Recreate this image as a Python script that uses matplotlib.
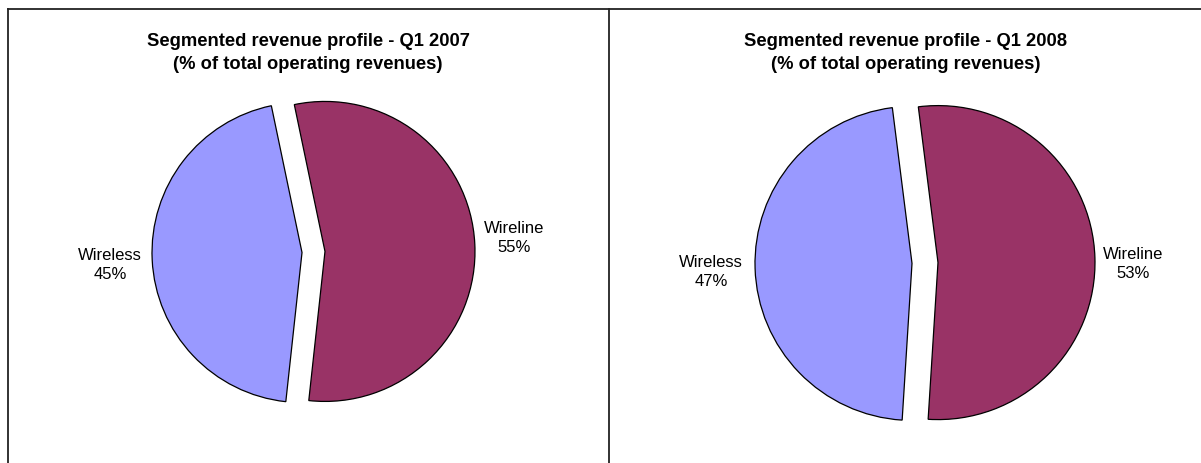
import matplotlib.pyplot as plt
from matplotlib.lines import Line2D

plt.rcParams["font.family"] = ["Liberation Sans", "DejaVu Sans"]

segments = ["Wireline", "Wireless"]
share_2007 = [55, 45]
share_2008 = [53, 47]
titles = ["Segmented revenue profile - Q1 2007\n(% of total operating revenues)",
          "Segmented revenue profile - Q1 2008\n(% of total operating revenues)"]
colors = ["#993366", "#9999FF"]

W, H = 1201, 463
fig = plt.figure(figsize=(W / 100, H / 100), dpi=100)
ax = fig.add_axes([0, 0, 1, 1])

# panel layout in pixels (y measured upward); explode is in pixels too
panels = [
    dict(data=share_2007, center=(313.5, 211), r=150, start=101.8, expl=11.5,
         title_x=308, lab_wl=(514, 225), lab_ws=(110, 198)),
    dict(data=share_2008, center=(925, 200), r=157, start=97.2, expl=13,
         title_x=906, lab_wl=(1133, 199), lab_ws=(711, 191)),
]

for p, title in zip(panels, titles):
    ax.pie(p["data"], colors=colors, startangle=p["start"], counterclock=False,
           center=p["center"], radius=p["r"], explode=[p["expl"]] * 2,
           wedgeprops=dict(edgecolor="black", linewidth=0.9), frame=True)
    ax.text(p["title_x"], H - 53, title, ha="center", va="center",
            fontsize=13.2, fontweight="bold", linespacing=1.42)
    ax.text(*p["lab_wl"], "%s\n%d%%" % (segments[0], p["data"][0]),
            ha="center", va="center", fontsize=12, linespacing=1.3)
    ax.text(*p["lab_ws"], "%s\n%d%%" % (segments[1], p["data"][1]),
            ha="center", va="center", fontsize=12, linespacing=1.3)

ax.set_xlim(0, W)
ax.set_ylim(0, H)
ax.set_aspect("equal")
ax.axis("off")

# panel borders
for xs, ys in [((8, W), (H - 9, H - 9)), ((8, 8), (H - 9, 0)), ((609, 609), (H - 9, 0))]:
    ax.add_line(Line2D(xs, ys, color="#222222", linewidth=1.3))

fig.savefig("out.png", dpi=100)
